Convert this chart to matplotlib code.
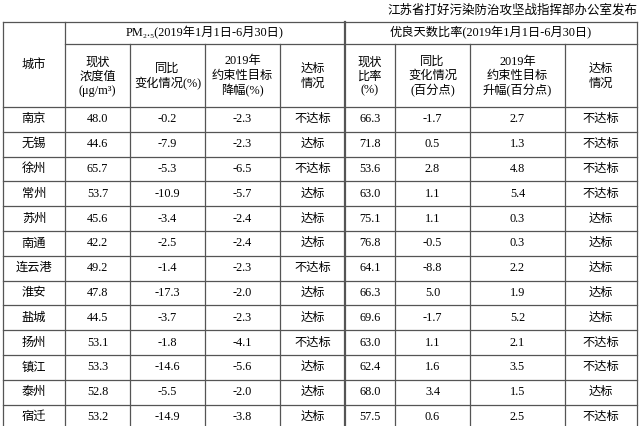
import matplotlib
matplotlib.use("Agg")
from matplotlib import pyplot as plt

cities = ["南京", "无锡", "徐州", "常州", "苏州", "南通", "连云港",
          "淮安", "盐城", "扬州", "镇江", "泰州", "宿迁"]
pm_now = ["48.0", "44.6", "65.7", "53.7", "45.6", "42.2", "49.2",
          "47.8", "44.5", "53.1", "53.3", "52.8", "53.2"]
pm_yoy = ["-0.2", "-7.9", "-5.3", "-10.9", "-3.4", "-2.5", "-1.4",
          "-17.3", "-3.7", "-1.8", "-14.6", "-5.5", "-14.9"]
pm_goal = ["-2.3", "-2.3", "-6.5", "-5.7", "-2.4", "-2.4", "-2.3",
           "-2.0", "-2.3", "-4.1", "-5.6", "-2.0", "-3.8"]
pm_ok = ["不达标", "达标", "不达标", "达标", "达标", "达标", "不达标",
         "达标", "达标", "不达标", "达标", "达标", "达标"]
good_now = ["66.3", "71.8", "53.6", "63.0", "75.1", "76.8", "64.1",
            "66.3", "69.6", "63.0", "62.4", "68.0", "57.5"]
good_yoy = ["-1.7", "0.5", "2.8", "1.1", "1.1", "-0.5", "-8.8",
            "5.0", "-1.7", "1.1", "1.6", "3.4", "0.6"]
good_goal = ["2.7", "1.3", "4.8", "5.4", "0.3", "0.3", "2.2",
             "1.9", "5.2", "2.1", "3.5", "1.5", "2.5"]
good_ok = ["不达标", "不达标", "不达标", "不达标", "达标", "达标", "达标",
           "达标", "达标", "不达标", "不达标", "达标", "不达标"]

W, H = 640, 426
xs = [3, 65, 130, 205, 280, 345, 395, 470, 565, 637]
y_top, y_mid, y_head = 22, 44, 107
row_h = 24.8
FAM = ["Liberation Serif", "Noto Sans CJK SC", "DejaVu Sans"]

fig = plt.figure(figsize=(6.4, 4.26), dpi=100)
ax = fig.add_axes([0, 0, 1, 1])
ax.set_xlim(0, W)
ax.set_ylim(H, 0)
ax.axis("off")

lc = "#555555"
ax.text(637, 10, "江苏省打好污染防治攻坚战指挥部办公室发布", ha="right", va="center",
        fontsize=9, family=FAM)

# horizontal lines
ax.plot([xs[0], xs[-1]], [y_top, y_top], color=lc, lw=0.9)
ax.plot([xs[1], xs[-1]], [y_mid, y_mid], color=lc, lw=0.9)
n = len(cities)
for i in range(n + 1):
    y = y_head + i * row_h
    ax.plot([xs[0], xs[-1]], [y, y], color=lc, lw=0.9)
# vertical lines
for j, x in enumerate(xs):
    y0 = y_top if j in (0, 1, 5, 9) else y_mid
    lw = 1.6 if j == 5 else 0.9
    ax.plot([x, x], [y0, H], color=lc, lw=lw)

fs = 8.8
ax.text((xs[0] + xs[1]) / 2, (y_top + y_head) / 2, "城市", ha="center", va="center",
        fontsize=fs, family=FAM)
ax.text((xs[1] + xs[5]) / 2, (y_top + y_mid) / 2, "PM₂.₅(2019年1月1日-6月30日)",
        ha="center", va="center", fontsize=fs, family=FAM)
ax.text((xs[5] + xs[9]) / 2, (y_top + y_mid) / 2, "优良天数比率(2019年1月1日-6月30日)",
        ha="center", va="center", fontsize=fs, family=FAM)
heads = ["现状\n浓度值\n(μg/m³)", "同比\n变化情况(%)", "2019年\n约束性目标\n降幅(%)",
         "达标\n情况", "现状\n比率\n(%)", "同比\n变化情况\n(百分点)",
         "2019年\n约束性目标\n升幅(百分点)", "达标\n情况"]
for j, h in enumerate(heads):
    ax.text((xs[j + 1] + xs[j + 2]) / 2, (y_mid + y_head) / 2 + 1, h, ha="center",
            va="center", fontsize=fs, family=FAM, linespacing=1.25)

cols = [cities, pm_now, pm_yoy, pm_goal, pm_ok, good_now, good_yoy, good_goal, good_ok]
for i in range(n):
    yc = y_head + (i + 0.5) * row_h
    for j, col in enumerate(cols):
        ax.text((xs[j] + xs[j + 1]) / 2, yc, col[i], ha="center", va="center",
                fontsize=fs, family=FAM)

fig.savefig("out.png", dpi=100)
